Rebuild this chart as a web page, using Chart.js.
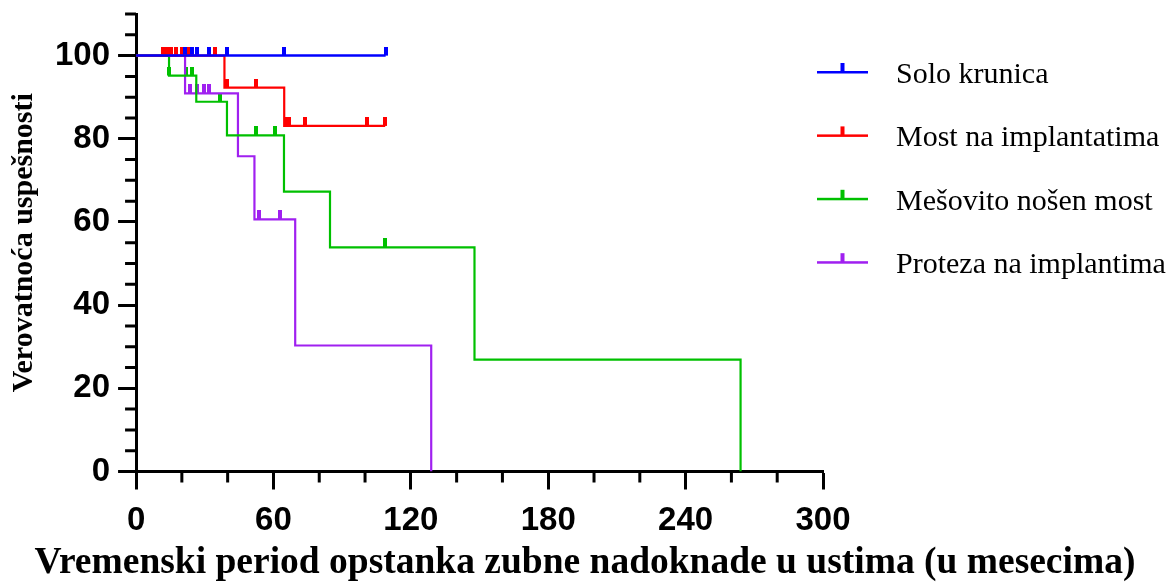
<!DOCTYPE html>
<html>
<head>
<meta charset="utf-8">
<script src="https://cdn.jsdelivr.net/npm/chart.js@4.4.1/dist/chart.umd.min.js"></script>
<style>
  html, body { margin: 0; padding: 0; background: #fff; }
  #wrap { width: 1170px; height: 582px; position: relative; }
</style>
</head>
<body>
<div id="wrap"><canvas id="km-chart"></canvas></div>
<script>
const X_TICKS = [0, 60, 120, 180, 240, 300];
const X_MINOR = [20, 40, 80, 100, 140, 160, 200, 220, 260, 280];
const Y_TICKS = [0, 20, 40, 60, 80, 100];
const Y_MINOR = [5, 10, 15, 25, 30, 35, 45, 50, 55, 65, 70, 75, 85, 90, 95, 105, 110];

const GROUPS = ['Solo krunica', 'Most na implantatima', 'Mešovito nošen most', 'Proteza na implantima'];
const COLORS = ['#0000ff', '#ff0000', '#00c000', '#a020f0'];

// Kaplan-Meier steps: time (months) and survival (%) just after that time
const soloTimes = [0, 109];
const soloSurv = [100, 100];
const soloCensored = [21.4, 24.4, 26.7, 31.7, 39.7, 64.6, 109];

const mostTimes = [0, 38.6, 64.7, 108.8];
const mostSurv = [100, 92.3, 83.1, 83.1];
const mostCensored = [11.6, 13.3, 15.1, 17.5, 20.1, 23.3, 34.5, 39.6, 52.5, 65.6, 66.9, 73.6, 100.7, 108.8];

const mesTimes = [0, 14.4, 26.3, 39.7, 64.6, 84.7, 147.8, 264];
const mesSurv = [100, 95.2, 88.9, 80.8, 67.3, 53.9, 26.9, 0];
const mesCensored = [14.6, 21.6, 24.3, 36.5, 52.5, 60.6, 108.8];

const protTimes = [0, 21.4, 44.5, 51.7, 69.5, 128.9];
const protSurv = [100, 90.9, 75.8, 60.6, 30.3, 0];
const protCensored = [23.5, 26.8, 29.6, 31.8, 53.8, 62.7];

const CURVES = [
  { times: soloTimes, surv: soloSurv, censored: soloCensored },
  { times: mostTimes, surv: mostSurv, censored: mostCensored },
  { times: mesTimes, surv: mesSurv, censored: mesCensored },
  { times: protTimes, surv: protSurv, censored: protCensored },
];

function survivalAt(times, surv, t) {
  let s = surv[0];
  times.forEach((tt, i) => { if (tt <= t) s = surv[i]; });
  return s;
}

// small vertical tick sitting on top of the curve
function censorMark(color) {
  const c = document.createElement('canvas');
  c.width = 4;
  c.height = 18;
  const g = c.getContext('2d');
  g.fillStyle = color;
  g.fillRect(0, 0, 4, 9);
  return c;
}

const lineSets = CURVES.map((c, i) => ({
  label: GROUPS[i],
  isCurve: true,
  data: c.times.map((t, k) => ({ x: t, y: c.surv[k] })),
  borderColor: COLORS[i],
  borderWidth: i === 0 ? 2.5 : 2.2,
  stepped: true,
  fill: false,
  pointRadius: 0,
}));

const censorSets = CURVES.map((c, i) => ({
  label: GROUPS[i] + ' (cenzurisano)',
  data: c.censored.map(t => ({ x: t, y: survivalAt(c.times, c.surv, t) })),
  showLine: false,
  pointStyle: censorMark(COLORS[i]),
  pointRadius: 3,
  borderColor: COLORS[i],
  backgroundColor: COLORS[i],
}));

const minorTicks = {
  id: 'minorTicks',
  afterDraw(chart) {
    const { ctx, chartArea, scales: { x, y } } = chart;
    ctx.save();
    ctx.strokeStyle = '#000';
    ctx.lineWidth = 3;
    ctx.beginPath();
    X_MINOR.forEach(v => {
      const px = x.getPixelForValue(v);
      ctx.moveTo(px, chartArea.bottom);
      ctx.lineTo(px, chartArea.bottom + 11);
    });
    Y_MINOR.forEach(v => {
      const py = y.getPixelForValue(v);
      ctx.moveTo(chartArea.left, py);
      ctx.lineTo(chartArea.left - 11, py);
    });
    ctx.stroke();
    ctx.restore();
  }
};

const sideLegend = {
  id: 'sideLegend',
  afterDraw(chart) {
    const { ctx, chartArea } = chart;
    const x0 = chartArea.right - 6;
    ctx.save();
    ctx.font = '30px "Liberation Serif"';
    ctx.textBaseline = 'alphabetic';
    chart.data.datasets.filter(d => d.isCurve).forEach((d, i) => {
      const yRow = chartArea.top + 58 + i * 63.4;
      ctx.fillStyle = d.borderColor;
      ctx.fillRect(x0, yRow - 1, 51, 2.5);
      ctx.fillRect(x0 + 23.5, yRow - 9, 4, 9);
      ctx.fillStyle = '#000';
      ctx.fillText(d.label, x0 + 79, yRow + 11);
    });
    ctx.restore();
  }
};

const tickFont = { family: '"Liberation Sans", Arial, sans-serif', size: 33, weight: 'bold', lineHeight: 0.8 };
const axisGrid = { drawOnChartArea: false, tickLength: 18, tickWidth: 3, tickColor: '#000' };
const axisBorder = { color: '#000', width: 3 };

new Chart(document.getElementById('km-chart'), {
  type: 'line',
  data: { datasets: [...lineSets, ...censorSets] },
  options: {
    responsive: true,
    maintainAspectRatio: false,
    animation: false,
    layout: { padding: { left: 0, top: 14, right: 0, bottom: 0 } },
    plugins: {
      legend: { display: false },
      tooltip: { enabled: false },
      title: {
        display: true,
        position: 'bottom',
        text: 'Vremenski period opstanka zubne nadoknade u ustima (u mesecima)',
        color: '#000',
        font: { family: '"Liberation Serif", "Times New Roman", serif', size: 37.5, weight: 'bold', lineHeight: 1 },
        padding: { top: 0, bottom: 0 },
      },
    },
    scales: {
      x: {
        type: 'linear',
        min: 0,
        max: 300,
        afterBuildTicks: s => { s.ticks = X_TICKS.map(v => ({ value: v })); },
        afterFit: s => { s.height = 73; },
        ticks: { color: '#000', font: { ...tickFont, lineHeight: 1.2 }, padding: 12, maxRotation: 0, autoSkip: false },
        grid: axisGrid,
        border: axisBorder,
      },
      y: {
        min: 0,
        max: 110,
        afterBuildTicks: s => { s.ticks = Y_TICKS.map(v => ({ value: v })); },
        afterFit: s => { s.paddingTop = 0; s.paddingBottom = 0; },
        ticks: { color: '#000', font: tickFont, padding: 8, autoSkip: false },
        grid: axisGrid,
        border: axisBorder,
        title: {
          display: true,
          text: 'Verovatnoća uspešnosti',
          color: '#000',
          font: { family: '"Liberation Serif", "Times New Roman", serif', size: 30, weight: 'bold', lineHeight: 1.2 },
          padding: { top: 6, bottom: 5 },
        },
      },
      // empty box on the right that keeps room for the legend
      legendSpace: {
        type: 'linear',
        position: 'right',
        display: true,
        afterFit: s => { s.width = 347; },
        ticks: { display: false },
        grid: { display: false },
        border: { display: false },
      },
    },
  },
  plugins: [minorTicks, sideLegend],
});
</script>
</body>
</html>
